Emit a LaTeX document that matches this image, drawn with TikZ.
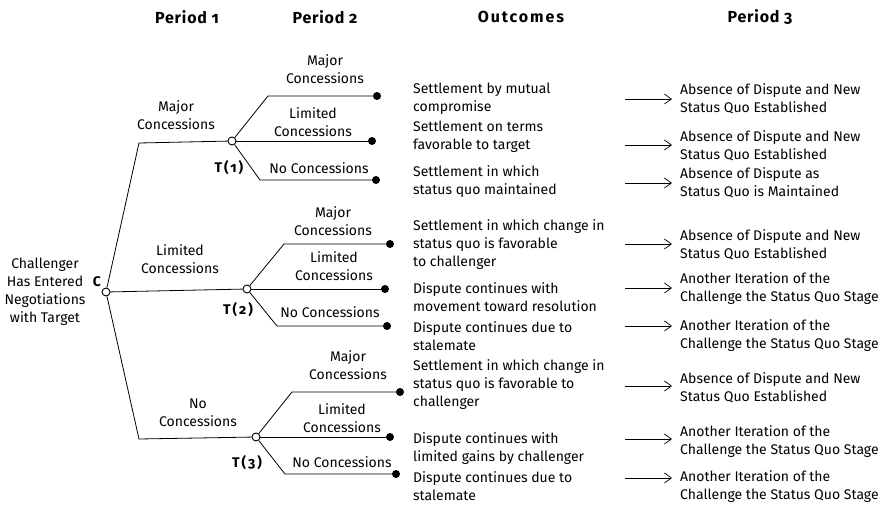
\documentclass[tikz,border=0pt]{standalone}
\usepackage{fontspec}
\setmainfont{Fira Sans}[Numbers=OldStyle]
\usetikzlibrary{arrows.meta}

\newcommand{\bodyfont}{\fontsize{14}{18}\selectfont}
\newcommand{\headfont}{\fontsize{16}{18}\selectfont\bfseries\addfontfeatures{LetterSpace=5}}
\newcommand{\markfont}{\fontsize{14}{18}\selectfont\bfseries\addfontfeatures{LetterSpace=14}}

\tikzset{
  branch/.style={line width=0.8pt},
  choice/.style={circle, draw, fill=white, inner sep=0pt, minimum size=8pt, line width=0.9pt},
  leaf/.style={circle, fill=black, inner sep=0pt, minimum size=8pt},
  lbl/.style={align=center, inner sep=0pt, font=\bodyfont},
  txt/.style={align=left, anchor=west, inner sep=0pt, font=\bodyfont},
  mark label/.style={inner sep=0pt, font=\markfont},
  colhead/.style={inner sep=0pt, font=\headfont},
  outarrow/.style={-{Straight Barb[length=7pt,width=10pt]}, line width=0.7pt}
}

\begin{document}
\begin{tikzpicture}[x=1pt,y=-1pt]
\useasboundingbox (0,0) rectangle (887,506);

% column headings
\node[colhead] (h1) at (187,17) {Period 1};
\node[colhead] (h2) at (325,17) {Period 2};
\node[colhead] (h3) at (521,17) {\addfontfeatures{LetterSpace=12}Outcomes};
\node[colhead] (h4) at (760,17) {Period 3};

% decision points
\node[choice] (C) at (106,292) {};
\node[choice] (T1) at (232,141) {};
\node[choice] (T2) at (247,289) {};
\node[choice] (T3) at (256,437) {};

\node[mark label] (Clbl) at (97,282) {C};
\node[mark label] (T1lbl) at (229,168) {T(1)};
\node[mark label] (T2lbl) at (238,310) {T(2)};
\node[mark label] (T3lbl) at (247,463) {T(3)};

\node[lbl] (start) at (45,292) {Challenger\\Has Entered\\Negotiations\\with Target};

% period 1 branches
\coordinate (k1) at (139,143);
\coordinate (k3) at (139,439);
\draw[branch] (C) -- (k1) -- (T1);
\draw[branch] (C) -- (T2);
\draw[branch] (C) -- (k3) -- (T3);

\node[lbl] (m1) at (176,115) {Major\\Concessions};
\node[lbl] (l1) at (180,259) {Limited\\Concessions};
\node[lbl] (n1) at (198,412.5) {No\\Concessions};

% period 2 end points
\node[leaf] (e11) at (377,96) {};
\node[leaf] (e12) at (372,141) {};
\node[leaf] (e13) at (376,180) {};
\node[leaf] (e21) at (390,244) {};
\node[leaf] (e22) at (385,289) {};
\node[leaf] (e23) at (387,326) {};
\node[leaf] (e31) at (400,392) {};
\node[leaf] (e32) at (390,437) {};
\node[leaf] (e33) at (396,474) {};

\coordinate (b11) at (268,96);
\coordinate (b13) at (260,180);
\coordinate (b21) at (284,244);
\coordinate (b23) at (277,326);
\coordinate (b31) at (292,392);
\coordinate (b33) at (285,474);

\draw[branch] (T1) -- (b11) -- (e11);
\draw[branch] (T1) -- (e12);
\draw[branch] (T1) -- (b13) -- (e13);
\draw[branch] (T2) -- (b21) -- (e21);
\draw[branch] (T2) -- (e22);
\draw[branch] (T2) -- (b23) -- (e23);
\draw[branch] (T3) -- (b31) -- (e31);
\draw[branch] (T3) -- (e32);
\draw[branch] (T3) -- (b33) -- (e33);

% period 2 labels
\node[lbl] (m2a) at (325,69) {Major\\Concessions};
\node[lbl] (l2a) at (313,122) {Limited\\Concessions};
\node[lbl] (n2a) at (319,168) {No Concessions};
\node[lbl] (m2b) at (333,221) {Major\\Concessions};
\node[lbl] (l2b) at (334,266) {Limited\\Concessions};
\node[lbl] (n2b) at (330,312) {No Concessions};
\node[lbl] (m2c) at (348,365.5) {Major\\Concessions};
\node[lbl] (l2c) at (342,418) {Limited\\Concessions};
\node[lbl] (n2c) at (342,462) {No Concessions};

% outcomes
\node[txt] (o1) at (413,99) {Settlement by mutual\\compromise};
\node[txt] (o2) at (413,137) {Settlement on terms\\favorable to target};
\node[txt] (o3) at (413,182) {Settlement in which\\status quo maintained};
\node[txt] (o4) at (413,245) {Settlement in which change in\\status quo is favorable\\to challenger};
\node[txt] (o5) at (413,297.5) {Dispute continues with\\movement toward resolution};
\node[txt] (o6) at (413,336) {Dispute continues due to\\stalemate};
\node[txt] (o7) at (413,385) {Settlement in which change in\\status quo is favorable to\\challenger};
\node[txt] (o8) at (413,449) {Dispute continues with\\limited gains by challenger};
\node[txt] (o9) at (413,486) {Dispute continues due to\\stalemate};

% period 3 results
\node[txt] (p1) at (680,99) {Absence of Dispute and New\\Status Quo Established};
\node[txt] (p2) at (680,145.5) {Absence of Dispute and New\\Status Quo Established};
\node[txt] (p3) at (680,183) {Absence of Dispute as\\Status Quo is Maintained};
\node[txt] (p4) at (680,244.5) {Absence of Dispute and New\\Status Quo Established};
\node[txt] (p5) at (680,289) {Another Iteration of the\\Challenge the Status Quo Stage};
\node[txt] (p6) at (680,336) {Another Iteration of the\\Challenge the Status Quo Stage};
\node[txt] (p7) at (680,388) {Absence of Dispute and New\\Status Quo Established};
\node[txt] (p8) at (680,442) {Another Iteration of the\\Challenge the Status Quo Stage};
\node[txt] (p9) at (680,487) {Another Iteration of the\\Challenge the Status Quo Stage};

% arrows from outcomes to period 3
\foreach \i/\y in {1/99,2/145,3/183,4/244,5/288,6/326,7/386,8/439,9/478}{
  \coordinate (as\i) at (625,\y);
  \coordinate (ae\i) at (672,\y);
  \draw[outarrow] (as\i) -- (ae\i);
}
\end{tikzpicture}
\end{document}
